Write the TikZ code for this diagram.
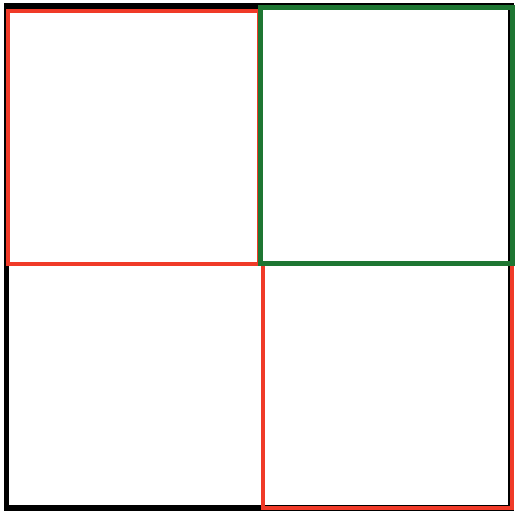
\documentclass[tikz,border=0pt]{standalone}
\definecolor{boxred}{RGB}{240,58,40}
\definecolor{boxgreen}{RGB}{30,118,50}
\begin{document}
\begin{tikzpicture}[x=1pt,y=-1pt,
  outerbox/.style={draw=black,line width=5.5pt},
  redbox/.style={draw=boxred,line width=4pt},
  greenbox/.style={draw=boxgreen,line width=5pt}]
\useasboundingbox (0,0) rectangle (517,514);
\draw[outerbox] (6.5,6) rectangle (511,508);
\draw[redbox] (8,11) rectangle (259,263.5);
\draw[redbox] (263,264) rectangle (511.5,507.5);
\draw[greenbox] (260,7) rectangle (512,263);
\end{tikzpicture}
\end{document}
